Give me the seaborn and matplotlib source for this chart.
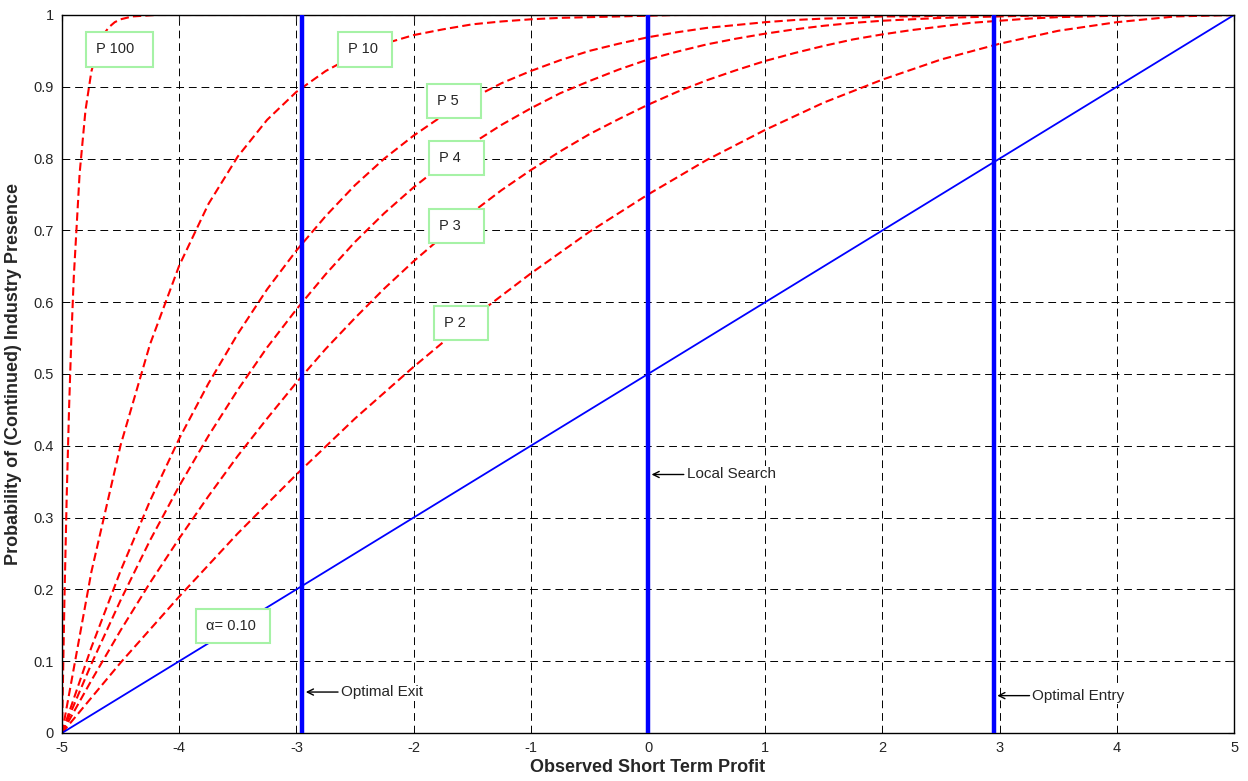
import matplotlib
matplotlib.use('Agg')
import pandas as pd
import seaborn as sns
import matplotlib.pyplot as plt

# x grid shared by the P2..P10 curves
x_grid = [-5.0, -4.75, -4.5, -4.25, -4.0, -3.75, -3.5, -3.25, -3.0, -2.75,
          -2.5, -2.25, -2.0, -1.75, -1.5, -1.25, -1.0, -0.75, -0.5, -0.25,
          0.0, 0.25, 0.5, 0.75, 1.0, 1.25, 1.5, 1.75, 2.0, 2.25,
          2.5, 2.75, 3.0, 3.25, 3.5, 3.75, 4.0, 4.25, 4.5, 4.75, 5.0]

p2 = [0.0, 0.049, 0.098, 0.144, 0.19, 0.234, 0.278, 0.319, 0.36, 0.399,
      0.438, 0.474, 0.51, 0.544, 0.578, 0.609, 0.64, 0.669, 0.698, 0.724,
      0.75, 0.774, 0.798, 0.819, 0.84, 0.859, 0.878, 0.894, 0.91, 0.924,
      0.938, 0.949, 0.96, 0.969, 0.978, 0.984, 0.99, 0.994, 0.998, 0.999, 1.0]
p3 = [0.0, 0.073, 0.143, 0.209, 0.271, 0.33, 0.386, 0.438, 0.488, 0.535,
      0.578, 0.619, 0.657, 0.692, 0.725, 0.756, 0.784, 0.81, 0.834, 0.855,
      0.875, 0.893, 0.909, 0.923, 0.936, 0.947, 0.957, 0.966, 0.973, 0.979,
      0.984, 0.989, 0.992, 0.995, 0.997, 0.998, 0.999, 1.0, 1.0, 1.0, 1.0]
p4 = [0.0, 0.096, 0.185, 0.268, 0.344, 0.414, 0.478, 0.537, 0.59, 0.639,
      0.684, 0.724, 0.76, 0.792, 0.821, 0.847, 0.87, 0.891, 0.908, 0.924,
      0.938, 0.949, 0.959, 0.967, 0.974, 0.98, 0.985, 0.989, 0.992, 0.994,
      0.996, 0.997, 0.998, 0.999, 0.999, 1.0, 1.0, 1.0, 1.0, 1.0, 1.0]
p5 = [0.0, 0.119, 0.226, 0.323, 0.41, 0.487, 0.556, 0.618, 0.672, 0.72,
      0.763, 0.8, 0.832, 0.86, 0.884, 0.905, 0.922, 0.937, 0.95, 0.96,
      0.969, 0.976, 0.982, 0.986, 0.99, 0.993, 0.995, 0.996, 0.998, 0.998,
      0.999, 1.0, 1.0, 1.0, 1.0, 1.0, 1.0, 1.0, 1.0, 1.0, 1.0]
p10 = [0.0, 0.224, 0.401, 0.541, 0.651, 0.737, 0.803, 0.854, 0.893, 0.922,
       0.944, 0.96, 0.972, 0.98, 0.987, 0.991, 0.994, 0.996, 0.997, 0.998,
       0.999, 1.0, 1.0, 1.0, 1.0, 1.0, 1.0, 1.0, 1.0, 1.0,
       1.0, 1.0, 1.0, 1.0, 1.0, 1.0, 1.0, 1.0, 1.0, 1.0, 1.0]

# P100 rises very fast, so it has its own finer grid near -5
x_p100 = [-5.0, -4.98, -4.96, -4.94, -4.92, -4.9, -4.85, -4.8, -4.75, -4.7,
          -4.65, -4.6, -4.55, -4.5, -4.4, -4.3, -4.2, -4.0, -3.0, 0.0, 5.0]
p100 = [0.0, 0.181, 0.33, 0.452, 0.552, 0.634, 0.779, 0.867, 0.921, 0.952,
        0.972, 0.983, 0.99, 0.994, 0.998, 0.999, 1.0, 1.0, 1.0, 1.0, 1.0]

# alpha = 0.10 line
x_alpha = [-5.0, 5.0]
y_alpha = [0.0, 1.0]

# thresholds (vertical lines) and their notes
thresholds = [-2.95, 0.0, 2.95]
notes = ['Optimal Exit', 'Local Search', 'Optimal Entry']
note_y = [0.057, 0.36, 0.052]

labels = ['P 100', 'P 10', 'P 5', 'P 4', 'P 3', 'P 2', 'α= 0.10']
label_x = [-4.71, -2.56, -1.80, -1.78, -1.78, -1.74, -3.77]
label_y = [0.952, 0.952, 0.880, 0.801, 0.706, 0.571, 0.149]
label_pad = [2, 1, 3, 3, 3, 3, 1]

sns.set_style('white')
plt.rcParams['font.family'] = ['Liberation Sans', 'DejaVu Sans']
plt.rcParams['axes.unicode_minus'] = False

fig = plt.figure(figsize=(12.48, 7.81), dpi=100)
ax = fig.add_axes([0.0497, 0.0615, 0.9391, 0.9193])

red_ls = (0, (4, 2))
for yy in [p2, p3, p4, p5, p10]:
    sns.lineplot(x=x_grid, y=yy, ax=ax, color='red', lw=1.5, linestyle=red_ls)
sns.lineplot(x=x_p100, y=p100, ax=ax, color='red', lw=1.5, linestyle=red_ls)
sns.lineplot(x=x_alpha, y=y_alpha, ax=ax, color='blue', lw=1.3)

for t in thresholds:
    ax.axvline(t, color='blue', lw=3.2, zorder=3)

for t, n, ny in zip(thresholds, notes, note_y):
    ax.annotate(n, xy=(t + 0.03, ny), xytext=(t + 0.33, ny),
                ha='left', va='center', fontsize=11, zorder=4,
                bbox=dict(boxstyle='square,pad=0.1', fc='white', ec='none'),
                arrowprops=dict(arrowstyle='->', color='black', lw=1,
                                shrinkA=1, shrinkB=0))

for lab, lx, ly, pad in zip(labels, label_x, label_y, label_pad):
    ax.text(lx, ly, lab + ' ' * pad, ha='left', va='center', fontsize=10.5,
            zorder=5,
            bbox=dict(boxstyle='square,pad=0.7', fc='white',
                      ec=(0.65, 0.95, 0.65), lw=1.5))

ax.set_xlim(-5, 5)
ax.set_ylim(0, 1)
ax.set_xticks(range(-5, 6))
ax.set_yticks([i / 10 for i in range(11)])
ax.set_yticklabels(['0', '0.1', '0.2', '0.3', '0.4', '0.5', '0.6', '0.7',
                    '0.8', '0.9', '1'])
ax.tick_params(direction='in', length=4, labelsize=10.5, top=True, right=True,
               pad=6)
ax.grid(True, color='black', lw=0.7, linestyle=(0, (8, 5)))
for s in ax.spines.values():
    s.set_color('black')
    s.set_linewidth(1)

ax.set_xlabel('Observed Short Term Profit', fontsize=13, fontweight='bold',
              labelpad=3)
ax.set_ylabel('Probability of (Continued) Industry Presence', fontsize=13,
              fontweight='bold', labelpad=8)

fig.savefig('out.png', dpi=100)
